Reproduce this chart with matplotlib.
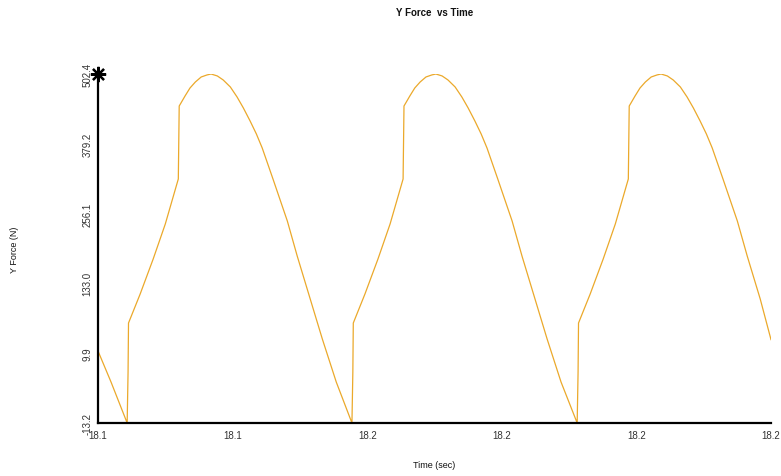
import matplotlib.pyplot as plt

plt.rcParams['font.family'] = ['Liberation Sans', 'DejaVu Sans']

# time (sec) and Y force (N)
time_s = [18.0900, 18.0929,
          18.0965, 18.0967, 18.0968, 18.0994, 18.1023, 18.1050, 18.1079, 18.1081,
          18.1094, 18.1105, 18.1117, 18.1130, 18.1143, 18.1152, 18.1166, 18.1179,
          18.1195, 18.1210, 18.1224, 18.1239, 18.1253, 18.1266, 18.1290, 18.1322,
          18.1344, 18.1373, 18.1400, 18.1431,
          18.1466, 18.1468, 18.1469, 18.1495, 18.1524, 18.1551, 18.1580, 18.1582,
          18.1595, 18.1606, 18.1618, 18.1631, 18.1644, 18.1653, 18.1667, 18.1680,
          18.1696, 18.1711, 18.1725, 18.1740, 18.1754, 18.1767, 18.1791, 18.1823,
          18.1845, 18.1874, 18.1901, 18.1932,
          18.1968, 18.1970, 18.1971, 18.1997, 18.2026, 18.2053, 18.2082, 18.2084,
          18.2097, 18.2108, 18.2120, 18.2133, 18.2146, 18.2155, 18.2169, 18.2182,
          18.2198, 18.2213, 18.2227, 18.2242, 18.2256, 18.2269, 18.2293, 18.2325,
          18.2347, 18.2376, 18.2400]
force_n = [93.2, 47.4,
           -13.2, 62.1, 134.5, 177.4, 229.1, 280.8, 347.3, 455.1,
           469.9, 481.7, 490.6, 498.0, 501.0, 502.4, 499.5, 493.6,
           483.2, 468.4, 452.2, 433.0, 413.8, 393.1, 347.3, 285.2,
           233.5, 170.0, 110.9, 47.4,
           -13.2, 62.1, 134.5, 177.4, 229.1, 280.8, 347.3, 455.1,
           469.9, 481.7, 490.6, 498.0, 501.0, 502.4, 499.5, 493.6,
           483.2, 468.4, 452.2, 433.0, 413.8, 393.1, 347.3, 285.2,
           233.5, 170.0, 110.9, 47.4,
           -13.2, 62.1, 134.5, 177.4, 229.1, 280.8, 347.3, 455.1,
           469.9, 481.7, 490.6, 498.0, 501.0, 502.4, 499.5, 493.6,
           483.2, 468.4, 452.2, 433.0, 413.8, 393.1, 347.3, 285.2,
           233.5, 170.0, 110.0]

x_min, x_max = 18.09, 18.24
y_min, y_max = -13.2, 502.4
x_ticklabels = ["18.1", "18.1", "18.2", "18.2", "18.2", "18.2"]
y_ticklabels = ["-13.2", "9.9", "133.0", "256.1", "379.2", "502.4"]

fig = plt.figure(figsize=(7.81, 4.77), dpi=100)
ax = fig.add_axes([98 / 781, 1 - 424 / 477, 673 / 781, 349 / 477])

ax.plot(time_s, force_n, color="#EBA92B", lw=0.9)
ax.set_xlim(x_min, x_max)
ax.set_ylim(y_min, y_max)

# marker at the top of the y axis
ax.plot([x_min], [y_max], marker=(8, 2, 0), color="black", ms=11, mew=1.6, clip_on=False)

n = len(x_ticklabels)
ax.set_xticks([x_min + i * (x_max - x_min) / (n - 1) for i in range(n)])
ax.set_xticklabels(x_ticklabels)
ax.set_yticks([y_min + i * (y_max - y_min) / (n - 1) for i in range(n)])
ax.set_yticklabels(y_ticklabels, rotation=90, va="center")
ax.tick_params(length=0, labelsize=7, labelcolor="#333333")
ax.tick_params(axis="x", pad=5)
ax.tick_params(axis="y", pad=4)

for side in ["top", "right"]:
    ax.spines[side].set_visible(False)
for side in ["left", "bottom"]:
    ax.spines[side].set_linewidth(1.6)
    ax.spines[side].set_color("black")

cx = (98 + 771) / 2 / 781
fig.text(cx, 1 - 13 / 477, "Y Force  vs Time", ha="center", va="center",
         fontsize=7, fontweight="bold", color="#111111")
fig.text(cx, 1 - 466 / 477, "Time (sec)", ha="center", va="center",
         fontsize=6.5, color="#111111")
fig.text(15 / 781, 1 - 250 / 477, "Y Force (N)", ha="center", va="center",
         rotation=90, fontsize=6.5, color="#111111")

fig.savefig("out.png", dpi=100)
